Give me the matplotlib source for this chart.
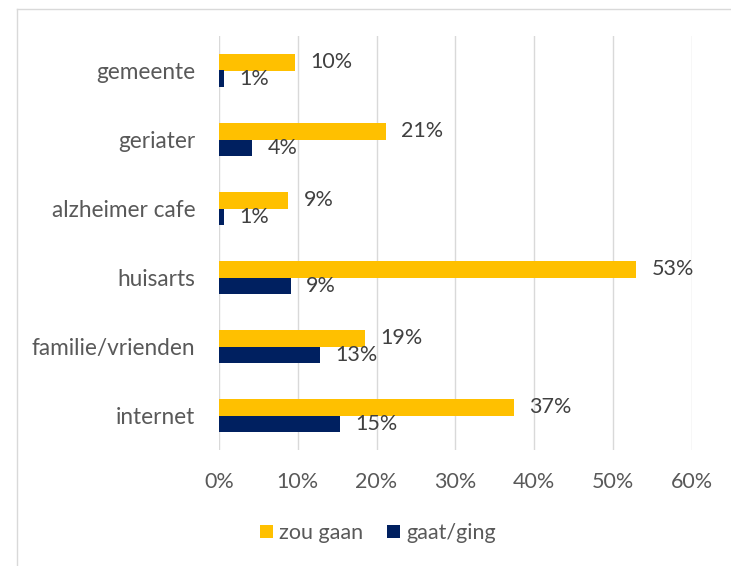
import matplotlib
matplotlib.use("Agg")
import matplotlib.pyplot as plt
from matplotlib.patches import Patch
from matplotlib.lines import Line2D
import numpy as np

plt.rcParams['font.family'] = ['Lato', 'DejaVu Sans']

categories = ["internet", "familie/vrienden", "huisarts", "alzheimer cafe", "geriater", "gemeente"]
zou_gaan = [0.374, 0.186, 0.530, 0.088, 0.212, 0.096]
gaat_ging = [0.154, 0.128, 0.091, 0.006, 0.042, 0.006]
series_names = ["zou gaan", "gaat/ging"]
xticks = [0, 0.1, 0.2, 0.3, 0.4, 0.5, 0.6]

YELLOW = "#FFC000"
NAVY = "#002060"
GRID = "#D9D9D9"
TXT = "#595959"
LBL = "#404040"
FS_CAT = 16.3
FS_NUM = 15.5
FS_LEG = 15.5

fig = plt.figure(figsize=(7.31, 5.66), dpi=100)
ax = fig.add_axes([219 / 731, 1 - 450 / 566, (691.5 - 219) / 731, (450 - 36) / 566])

y = np.arange(len(categories))
h = 0.232
b1 = ax.barh(y + h / 2, zou_gaan, height=h, color=YELLOW, zorder=3)
b2 = ax.barh(y - h / 2, gaat_ging, height=h, color=NAVY, zorder=3)

for bars, vals in ((b1, zou_gaan), (b2, gaat_ging)):
    for rect, v in zip(bars, vals):
        ax.annotate(f"{round(v * 100):.0f}%", xy=(v, rect.get_y() + rect.get_height() / 2),
                    xytext=(11, 0), textcoords="offset points", ha="left", va="center",
                    fontsize=FS_NUM, color=LBL, zorder=4)

ax.set_xlim(0, 0.6)
ax.set_ylim(-0.5, len(categories) - 0.5)
ax.set_xticks(xticks)
ax.set_xticklabels([f"{int(round(t * 100))}%" for t in xticks])
ax.set_yticks(y)
ax.set_yticklabels(categories)
ax.tick_params(axis="x", length=0, pad=16, labelsize=FS_NUM, labelcolor=TXT)
ax.tick_params(axis="y", length=0, pad=17, labelsize=FS_CAT, labelcolor=TXT)
ax.grid(axis="x", color=GRID, linewidth=1.0, zorder=0)
for s in ax.spines.values():
    s.set_visible(False)

handles = [Patch(facecolor=YELLOW, edgecolor="none"), Patch(facecolor=NAVY, edgecolor="none")]
fig.legend(handles, series_names, loc="center", bbox_to_anchor=(378 / 731, 1 - 533 / 566),
           ncol=2, frameon=False, fontsize=FS_LEG, labelcolor=TXT, handlelength=0.6,
           handleheight=0.6, handletextpad=0.3, columnspacing=1.1)

# chart area border (light gray), left and top visible
fig.add_artist(Line2D([17 / 731, 17 / 731], [0, 1 - 9 / 566], color=GRID, linewidth=1.0,
                      transform=fig.transFigure))
fig.add_artist(Line2D([17 / 731, 1], [1 - 9 / 566, 1 - 9 / 566], color=GRID, linewidth=1.0,
                      transform=fig.transFigure))

fig.savefig("out.png", dpi=100)
